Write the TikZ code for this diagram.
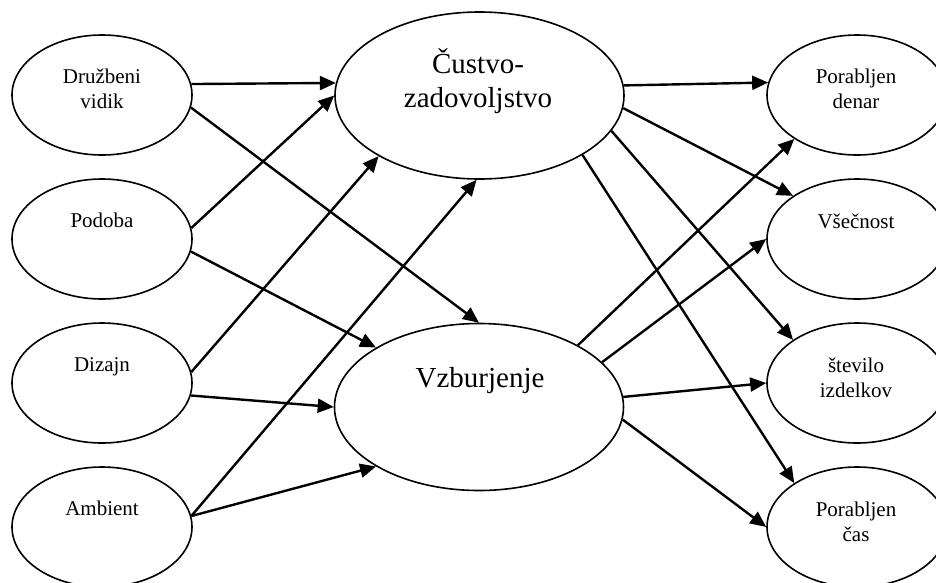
\documentclass[tikz,border=0pt]{standalone}
\usepackage{fontspec}
\setmainfont{Liberation Serif}
\usetikzlibrary{shapes.geometric,arrows.meta}

\tikzset{
  smallell/.style={draw, ellipse, line width=1.6pt, inner sep=0pt,
    minimum width=180pt, minimum height=120pt},
  bigell/.style={draw, ellipse, line width=1.6pt, inner sep=0pt,
    minimum width=289pt, minimum height=167pt},
  % the base anchor of a multi-line label sits on its last line
  smalltxt/.style={anchor=base, inner sep=0pt, align=center,
    font=\fontsize{21pt}{25pt}\selectfont},
  bigtxt/.style={anchor=base, inner sep=0pt, align=center,
    font=\fontsize{29pt}{34pt}\selectfont},
  arr/.style={line width=2.4pt, -{Triangle[length=16pt,width=14pt]}}
}

\begin{document}
\begin{tikzpicture}[x=1pt,y=-1pt]
  \fill[white] (0,0) rectangle (936,582);
  \useasboundingbox (0,0) rectangle (936,582);

  % input constructs
  \node[smallell] (dru) at (102,95)  {};
  \node[smallell] (pod) at (102,239) {};
  \node[smallell] (diz) at (102,383) {};
  \node[smallell] (amb) at (102,527) {};

  % mediating states
  \node[bigell] (cus) at (479.5,95.5) {};
  \node[bigell] (vzb) at (479,407) {};

  % outcomes
  \node[smallell] (den) at (857,95)  {};
  \node[smallell] (vse) at (857,239) {};
  \node[smallell] (ste) at (857,383) {};
  \node[smallell] (cas) at (857,527) {};

  % labels
  \node[smalltxt] (tdru) at (102,108) {Družbeni\\vidik};
  \node[smalltxt] (tpod) at (102,227) {Podoba};
  \node[smalltxt] (tdiz) at (102,371) {Dizajn};
  \node[smalltxt] (tamb) at (102,515) {Ambient};
  \node[bigtxt]   (tcus) at (478,107) {Čustvo-\\zadovoljstvo};
  \node[bigtxt]   (tvzb) at (480,387) {Vzburjenje};
  \node[smalltxt] (tden) at (856,108) {Porabljen\\denar};
  \node[smalltxt] (tvse) at (856,228) {Všečnost};
  \node[smalltxt] (tste) at (856,397) {število\\izdelkov};
  \node[smalltxt] (tcas) at (856,541) {Porabljen\\čas};

  % inputs -> states
  \draw[arr] (dru.7.6)  -- (cus.175);
  \draw[arr] (dru.-8.2) -- (vzb.90.5);
  \draw[arr] (pod.7.6)  -- (cus.180.6);
  \draw[arr] (pod.-8.2) -- (vzb.150);
  \draw[arr] (diz.7.6)  -- (cus.211.7);
  \draw[arr] (diz.-8.2) -- (vzb.180.4);
  \draw[arr] (amb.7.6)  -- (cus.268.3);
  \draw[arr] (amb.7.6)  -- (vzb.210.5);

  % states -> outcomes
  \draw[arr] (cus.4.9)   -- (den.172.4);
  \draw[arr] (cus.-5)    -- (vse.146.7);
  \draw[arr] (cus.-15.3) -- (ste.146.1);
  \draw[arr] (cus.-30.1) -- (cas.145.5);
  \draw[arr] (vzb.32.3)  -- (den.215.1);
  \draw[arr] (vzb.20.9)  -- (vse.180.6);
  \draw[arr] (vzb.4.8)   -- (ste.180);
  \draw[arr] (vzb.-5.2)  -- (cas.180);
\end{tikzpicture}
\end{document}
